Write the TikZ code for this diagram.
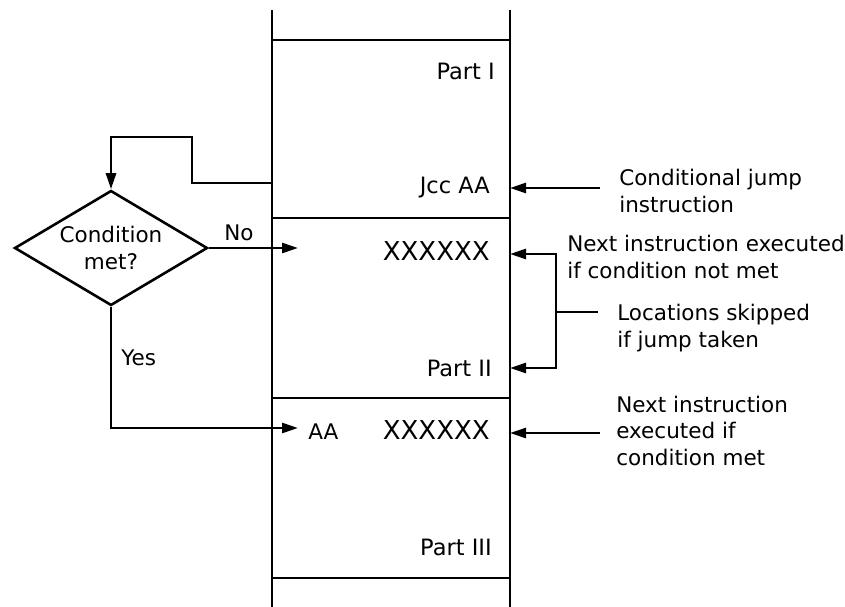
\documentclass[tikz,border=0pt]{standalone}
\usepackage{fontspec}
\setmainfont{DejaVu Sans}
\usetikzlibrary{arrows.meta,shapes.geometric,positioning}

\begin{document}
\begin{tikzpicture}[x=1pt,y=-1pt,line width=2.6pt,
every node/.style={font=\fontsize{21.5}{26.5}\selectfont,inner sep=0pt},
decision/.style={diamond,draw,aspect=1.68,minimum width=193pt,minimum height=115pt,align=center},
cell/.style={anchor=base east,font=\fontsize{22.5}{26}\selectfont},
lbl/.style={anchor=base west,align=left},
arr/.style={-{Triangle[length=16pt,width=10pt]}}]
\useasboundingbox (0,0) rectangle (845,607);
\draw (272,10)--(272,607);
\draw (510,10)--(510,607);
\foreach \y in {40,218,398,578} \draw (272,\y)--(510,\y);
\node[cell] (p1) at (496,80) {Part I};
\node[cell] (jcc) at (491,193) {Jcc AA};
\node[cell,font=\fontsize{26}{26}\selectfont] (x1) at (491,260) {XXXXXX};
\node[cell] (p2) at (493,376) {Part II};
\node[cell,font=\fontsize{26}{26}\selectfont] (x2) at (491,439) {XXXXXX};
\node[anchor=base west] (aa) at (307,439) {AA};
\node[cell] (p3) at (493,555) {Part III};
\node[decision] (cond) at (111,248) {Condition\\met?};
\node[anchor=base west] (no) at (223,240) {No};
\node[anchor=base west] (yes) at (120,365) {Yes};
\node[lbl] (cj) at (618,212) {Conditional jump\\instruction};
\node[lbl] (nm) at (566,278) {Next instruction executed\\if condition not met};
\node[lbl] (sk) at (616,347) {Locations skipped\\if jump taken};
\node[lbl] (cm) at (615,465) {Next instruction\\executed if\\condition met};
\coordinate (jl) at (272,183);
\coordinate (noend) at (298,248);
\coordinate (yesend) at (298,428);
\coordinate (cjs) at (600,188);
\coordinate (cjt) at (510,188);
\coordinate (nmt) at (510,254);
\coordinate (p2t) at (510,368);
\coordinate (br) at (556,312);
\coordinate (brend) at (598,312);
\coordinate (cms) at (600,433);
\coordinate (cmt) at (510,433);
\draw[arr] (jl) -| (192,137) -| (cond.north);
\draw[arr] (cond.east) -- (noend);
\draw[arr] (cond.south) |- (yesend);
\draw[arr] (cjs) -- (cjt);
\draw[arr] (br) |- (nmt);
\draw[arr] (br) |- (p2t);
\draw (br) -- (brend);
\draw[arr] (cms) -- (cmt);
\end{tikzpicture}
\end{document}
